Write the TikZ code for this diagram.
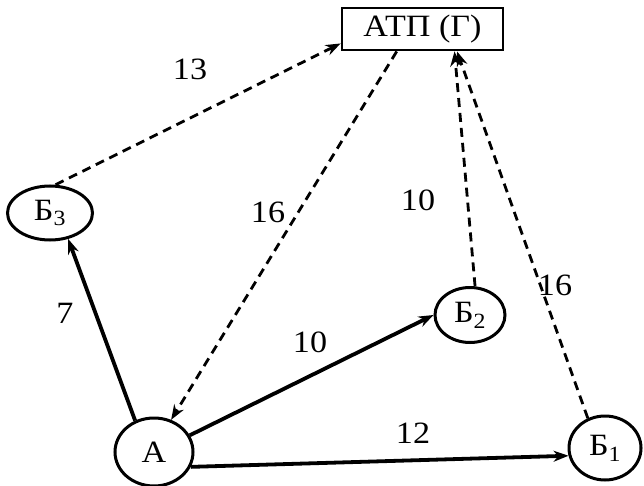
\documentclass[tikz,border=0pt]{standalone}
\usepackage{fontspec}
\setmainfont[FakeStretch=1.1]{Liberation Serif}
\usetikzlibrary{shapes.geometric,arrows.meta}
\begin{document}
\begin{tikzpicture}[x=1pt,y=-1pt,
  every node/.style={font=\fontsize{31}{32}\selectfont},
  vert/.style={draw,ellipse,line width=3pt,inner sep=0pt},
  solidarr/.style={line width=3.8pt,-{Stealth[length=15pt,width=11pt]}},
  dasharr/.style={line width=2.8pt,dash pattern=on 9pt off 6pt,-{Stealth[length=15pt,width=11pt]}},
  lab/.style={inner sep=0pt}]
\useasboundingbox (0,0) rectangle (644,486);
\node[draw,line width=2.8pt,minimum width=161pt,minimum height=42pt,inner sep=0pt] (atp) at (422.5,29) {АТП (Г)};
\node[vert,minimum width=85pt,minimum height=54pt] (b3) at (50,213) {Б\textsubscript{3}};
\node[vert,minimum width=70pt,minimum height=55pt] (b2) at (470,315) {Б\textsubscript{2}};
\node[vert,minimum width=72pt,minimum height=64pt] (b1) at (605,448) {Б\textsubscript{1}};
\node[vert,minimum width=78pt,minimum height=68pt] (a) at (154,452) {А};
\draw[solidarr] (a.121) -- (b3.305);
\draw[solidarr] (a.25) -- (b2.180);
\draw[solidarr] (a.338) -- (b1.192);
\draw[dasharr] (b3.79) -- (atp.190);
\draw[dasharr] (atp.221) -- (a.62);
\draw[dasharr] (b2.80) -- (atp.325);
\draw[dasharr] (b1.120) -- (atp.327);
\node[lab] (l13) at (190,69) {13};
\node[lab] (l16a) at (268,212) {16};
\node[lab] (l10a) at (418,200) {10};
\node[lab] (l16b) at (555,285) {16};
\node[lab] (l7) at (65,313) {7};
\node[lab] (l10b) at (310,342) {10};
\node[lab] (l12) at (413,433) {12};
\end{tikzpicture}
\end{document}
